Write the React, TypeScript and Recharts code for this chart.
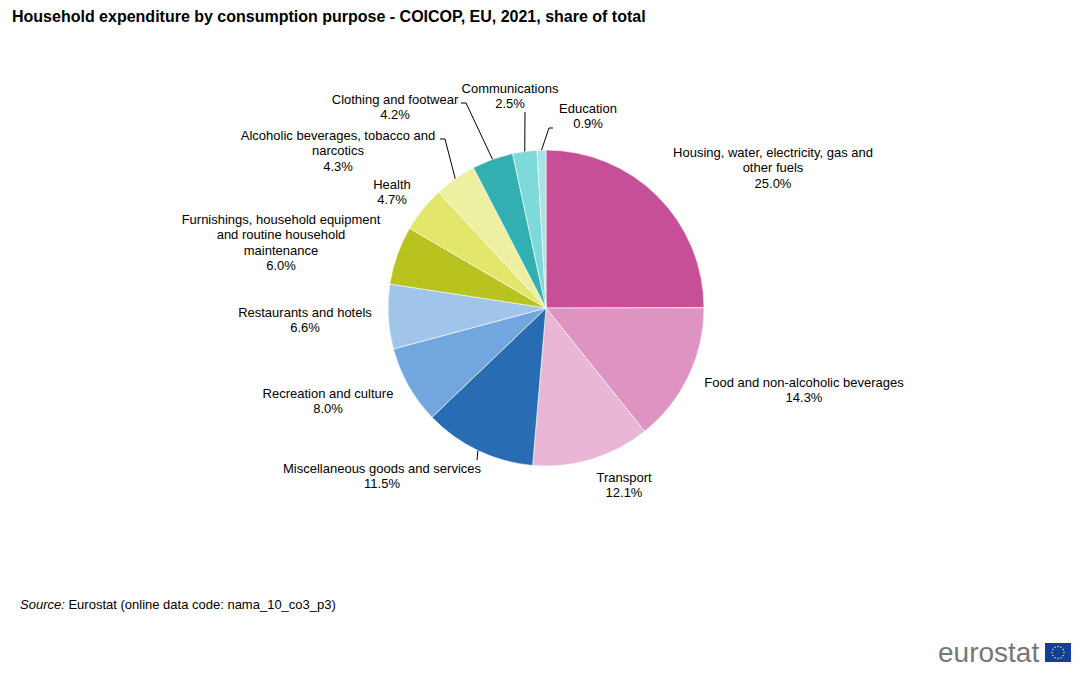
import { PieChart, Pie, Cell } from 'recharts'

// COICOP divisions, clockwise from 12 o'clock
const CATEGORIES = [
  'Housing, water, electricity, gas and\nother fuels',
  'Food and non-alcoholic beverages',
  'Transport',
  'Miscellaneous goods and services',
  'Recreation and culture',
  'Restaurants and hotels',
  'Furnishings, household equipment\nand routine household\nmaintenance',
  'Health',
  'Alcoholic beverages, tobacco and\nnarcotics',
  'Clothing and footwear',
  'Communications',
  'Education',
]

// share of total household expenditure, %
const SHARES = [25.0, 14.3, 12.1, 11.5, 8.0, 6.6, 6.0, 4.7, 4.3, 4.2, 2.5, 0.9]

const COLORS = [
  '#c64f98',
  '#df93c2',
  '#e9b6d6',
  '#286db4',
  '#71a6de',
  '#a1c5ea',
  '#b9c31f',
  '#e2e66b',
  '#ecf0a0',
  '#32b0b1',
  '#7ed9da',
  '#a8e4e6',
]

const data = CATEGORIES.map((name, i) => ({ name, value: SHARES[i] }))

const FONT = '"Liberation Sans", Arial, Helvetica, sans-serif'
const CX = 546
const CY = 308
const RADIUS = 158
const LINE_H = 15.3
const RAD = Math.PI / 180

// label block placement relative to the pie centre (first line centre),
// plus an optional leader elbow and the short horizontal hook after it
type LabelLayout = { dx: number; dy: number; elbow?: [number, number]; hook?: number }
const LABEL_LAYOUT: LabelLayout[] = [
  { dx: 227, dy: -156 },
  { dx: 258, dy: 74 },
  { dx: 78, dy: 169 },
  { dx: -164, dy: 160, elbow: [-69, 152] },
  { dx: -218, dy: 85 },
  { dx: -241, dy: 4 },
  { dx: -265, dy: -89 },
  { dx: -154, dy: -124 },
  { dx: -208, dy: -173, elbow: [-101, -169], hook: -5 },
  { dx: -151, dy: -209, elbow: [-80, -205], hook: -5 },
  { dx: -36, dy: -220, elbow: [-21, -196] },
  { dx: 42, dy: -200, elbow: [3, -180], hook: 4 },
]

function renderLabel(props: any) {
  const { midAngle, outerRadius, index, value } = props
  const cx = props.cx ?? CX
  const cy = props.cy ?? CY
  const layout = LABEL_LAYOUT[index]
  const lines = [...CATEGORIES[index].split('\n'), `${Number(value).toFixed(1)}%`]
  const tx = cx + layout.dx
  const ty = cy + layout.dy

  let leader = null
  if (layout.elbow) {
    const sx = cx + outerRadius * Math.cos(-midAngle * RAD)
    const sy = cy + outerRadius * Math.sin(-midAngle * RAD)
    const ex = cx + layout.elbow[0]
    const ey = cy + layout.elbow[1]
    const pts = [[sx, sy], [ex, ey]]
    if (layout.hook) pts.push([ex + layout.hook, ey])
    leader = (
      <polyline
        points={pts.map((p) => p.join(',')).join(' ')}
        fill="none"
        stroke="#000"
        strokeWidth={1}
      />
    )
  }

  return (
    <g key={`label-${index}`}>
      {leader}
      <text
        x={tx}
        y={ty}
        textAnchor="middle"
        dominantBaseline="central"
        fontFamily={FONT}
        fontSize={13}
        fill="#000"
      >
        {lines.map((line, i) => (
          <tspan key={i} x={tx} y={ty + i * LINE_H}>
            {line}
          </tspan>
        ))}
      </text>
    </g>
  )
}

function EuroLogo() {
  const stars = Array.from({ length: 12 }, (_, i) => i * 30 * RAD)
  return (
    <svg
      width={150}
      height={40}
      style={{ position: 'absolute', left: 930, top: 632 }}
    >
      <text x={8} y={30} fontFamily={FONT} fontSize={28} fill="#777777">
        eurostat
      </text>
      <rect x={115} y={11} width={26} height={19} fill="#123f9c" />
      {stars.map((a, i) => (
        <circle
          key={i}
          cx={128 + 6 * Math.cos(a)}
          cy={20.5 + 6 * Math.sin(a)}
          r={0.8}
          fill="#ffdd00"
        />
      ))}
    </svg>
  )
}

export default function App() {
  return (
    <div
      style={{
        position: 'absolute',
        left: 0,
        top: 0,
        width: 1090,
        height: 681,
        background: '#fff',
        fontFamily: FONT,
        overflow: 'hidden',
      }}
    >
      <div
        style={{
          position: 'absolute',
          left: 12,
          top: 8,
          fontSize: 16,
          fontWeight: 'bold',
          color: '#000',
          whiteSpace: 'nowrap',
        }}
      >
        Household expenditure by consumption purpose - COICOP, EU, 2021, share of total
      </div>

      <PieChart
        width={1090}
        height={681}
        margin={{ top: 0, right: 0, bottom: 0, left: 0 }}
        style={{ position: 'absolute', left: 0, top: 0 }}
      >
        <Pie
          data={data}
          dataKey="value"
          nameKey="name"
          cx={CX}
          cy={CY}
          outerRadius={RADIUS}
          startAngle={90}
          endAngle={-270}
          stroke="#ffffff"
          strokeWidth={0.6}
          labelLine={false}
          label={renderLabel}
          isAnimationActive={false}
        >
          {data.map((d, i) => (
            <Cell key={d.name} fill={COLORS[i]} />
          ))}
        </Pie>
      </PieChart>

      <div
        style={{
          position: 'absolute',
          left: 20,
          top: 597,
          fontSize: 13,
          color: '#000',
          whiteSpace: 'nowrap',
        }}
      >
        <i>Source:</i> Eurostat (online data code: nama_10_co3_p3)
      </div>

      <EuroLogo />
    </div>
  )
}
